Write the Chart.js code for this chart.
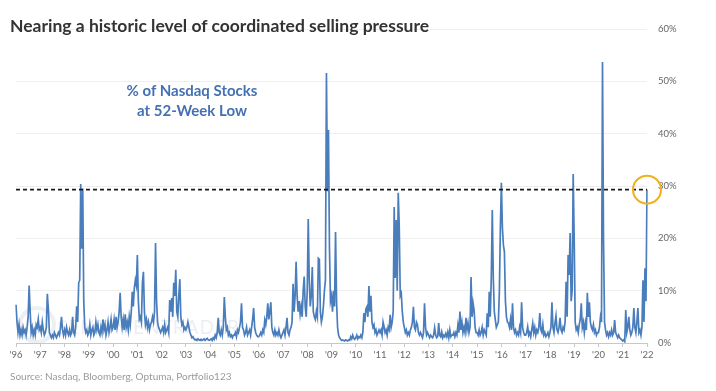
<!DOCTYPE html>
<html>
<head>
<meta charset="utf-8">
<script src="https://cdn.jsdelivr.net/npm/chart.js@4.4.1/dist/chart.umd.min.js"></script>
<style>
  html, body { margin: 0; padding: 0; background: #fff; }
  #wrap { position: relative; width: 716px; height: 391px; overflow: hidden; font-family: Lato, "Liberation Sans", sans-serif; }
  #chart { position: absolute; left: 0; top: 0; z-index: 2; }
  .title { position: absolute; left: 10px; top: 15px; font-size: 17.5px; font-weight: bold; color: #333; white-space: nowrap; z-index: 3; }
  .sub { position: absolute; left: 92px; width: 200px; top: 80px; text-align: center; font-size: 15px; line-height: 20px; font-weight: bold; color: #4471b3; z-index: 3; }
  .source { position: absolute; left: 10px; top: 370px; font-size: 10px; color: #9a9a9a; white-space: nowrap; z-index: 3; }
  .mark { position: absolute; left: 57px; top: 315px; font-size: 19px; letter-spacing: 1px; color: rgba(160, 180, 205, 0.22); z-index: 1; }
  .markc { position: absolute; left: 18px; top: 306px; width: 30px; height: 30px; border: 4px solid rgba(160, 180, 205, 0.2); border-radius: 50%; z-index: 1; }
</style>
</head>
<body>
<div id="wrap">
  <div class="title">Nearing a historic level of coordinated selling pressure</div>
  <div class="sub">% of Nasdaq Stocks<br>at 52-Week Low</div>
  <div class="markc"></div>
  <div class="mark">SENTIMENTRADER</div>
  <canvas id="chart" width="716" height="391"></canvas>
  <div class="source">Source: Nasdaq, Bloomberg, Optuma, Portfolio123</div>
</div>
<script>
// % of Nasdaq stocks at a 52-week low, two readings per month
const y1996 = [7.3, 4, 2, 3.5, 1.5, 2.5, 1.5, 3, 2, 2.5, 1.5, 3, 5, 11, 6, 2, 3, 1.5, 2.5, 1.5, 3.5, 3, 4.5, 2.5];
const y1997 = [3, 2, 4, 2.5, 1.5, 2, 3, 9.4, 6.5, 2, 1.5, 1, 1.5, 1, 2, 1.5, 1, 1.5, 2, 1.5, 3, 5, 2.5, 1.5];
const y1998 = [2.5, 1.5, 3, 2, 1.5, 2.5, 1.5, 2, 5, 2, 1.5, 3, 7, 4, 11.5, 12, 30.4, 18, 29.5, 8, 3, 2, 2.5, 1.5];
const y1999 = [2, 3.5, 1.5, 2.5, 3, 1.5, 2, 4, 2.5, 3.5, 2, 1.5, 3, 2, 4.5, 2.5, 3.5, 1.5, 2.5, 4, 2, 3, 4.5, 2.5];
const y2000 = [3, 4.5, 2.5, 5, 3, 4, 6, 9.6, 5, 3, 4.5, 2.5, 5.5, 3, 4, 2.5, 5, 3.5, 6, 9.8, 7, 10.5, 12, 11];
const y2001 = [16.8, 8, 4.5, 5, 4, 11.5, 13.6, 6, 3.5, 4.5, 3, 4, 2.5, 3.5, 4, 5, 4, 6, 19.1, 8, 4, 3, 2.5, 2];
const y2002 = [2.5, 3, 2, 3.5, 2, 2.5, 3, 2, 8.2, 6, 8.6, 5, 11.5, 9, 14, 6, 5, 9, 12.2, 5, 3.5, 4, 2.5, 3];
const y2003 = [2.5, 3, 4, 3, 2, 1.5, 1, 1.2, 0.8, 0.6, 0.7, 0.5, 0.8, 0.6, 0.5, 0.7, 0.5, 0.6, 0.8, 0.5, 0.7, 0.9, 0.6, 0.5];
const y2004 = [0.6, 0.8, 0.5, 1, 0.7, 1.5, 1, 2, 4.8, 2, 1.5, 2.5, 1.5, 3, 8.8, 5, 2.5, 3, 1.5, 2, 1.2, 1.5, 1, 1.5];
const y2005 = [1.5, 2, 1.2, 2.5, 2, 3, 4, 7.6, 3, 2.5, 1.5, 2, 3, 1.5, 2, 2.5, 1.5, 3, 4.5, 6.7, 3, 2, 1.5, 1.2];
const y2006 = [1.2, 1.5, 2, 1.5, 2.5, 2, 4.4, 3.5, 5, 7.6, 4.5, 6, 7.8, 3, 2, 1.5, 2.5, 1.5, 2, 1.5, 2.5, 1.5, 1, 1.5];
const y2007 = [2, 2.5, 1.5, 3, 4.8, 2, 1.5, 2.5, 3, 4, 11.3, 6, 9, 15.5, 9, 6, 8, 5.5, 7, 5, 10, 12.7, 7, 5];
const y2008 = [10, 23.7, 12, 7, 9, 14.5, 6, 5, 4.5, 6, 5, 16.2, 16, 6, 4, 5, 7, 10, 12, 51.6, 29, 40.7, 18, 8];
const y2009 = [9, 6, 10, 7, 21.2, 8, 3, 1.5, 1, 0.7, 0.5, 0.6, 0.5, 0.4, 0.6, 0.5, 0.4, 0.6, 0.5, 1.2, 0.8, 1.5, 0.9, 0.7];
const y2010 = [1, 1.5, 0.8, 1.2, 1, 1.5, 1, 2, 5.7, 4, 6.5, 6.9, 5, 10.9, 6, 9, 4, 3, 3.5, 2, 2.5, 1.5, 2, 2.5];
const y2011 = [2, 2.5, 1.5, 4, 3.1, 2, 2.5, 1.5, 3, 2.5, 5.4, 3, 4, 6, 26, 12.4, 23.5, 10, 28.7, 22.2, 9, 9.5, 6, 4];
const y2012 = [3, 2, 2.5, 1.5, 2, 1.5, 2.5, 3, 4, 6.9, 3, 2.5, 4, 3.5, 2, 1.5, 2, 1.5, 1, 2, 7.6, 3, 1.5, 2];
const y2013 = [1.5, 1, 1.5, 1.2, 1, 1.5, 2.9, 1.5, 1, 1.2, 3.8, 1.5, 1.2, 2.1, 1, 1.5, 1.2, 1.8, 1.2, 2.1, 1, 2.5, 1.2, 1.5];
const y2014 = [1.5, 2, 1.2, 2, 1.5, 3.4, 2, 6, 2.5, 4, 2, 3, 2, 4.8, 2.5, 3.8, 2, 3, 12.6, 5, 7.6, 6.3, 3, 2];
const y2015 = [2, 1.5, 2.5, 1.5, 2, 3, 1.5, 2.5, 2, 1.5, 5.7, 3, 9.8, 5, 12.4, 25.4, 12.4, 6, 4.4, 3, 3.5, 4, 9.8, 22];
const y2016 = [30.6, 22, 18.7, 17.4, 8, 5, 4, 3.8, 3, 4.5, 2.5, 7.6, 3, 2, 2.5, 1.5, 2, 1.5, 3, 2, 7.8, 3, 2, 1.5];
const y2017 = [1.5, 2, 3.1, 1.5, 2, 1.2, 2.5, 3.8, 2, 3, 1.5, 2.5, 2, 3, 5.7, 2.5, 2, 3.5, 1.5, 2, 1.2, 1.5, 2, 1.2];
const y2018 = [2, 3, 7.8, 3, 2, 3.8, 5.2, 2.5, 2, 3, 4.8, 2.5, 2, 3, 2.5, 4, 11.7, 5, 16.8, 13, 21, 8, 10, 32.3];
const y2019 = [20, 4, 2.5, 3, 2, 3.5, 4.5, 7.6, 3, 4, 2, 3.8, 2.5, 9.6, 5, 7.8, 4, 3, 2.5, 3.5, 2, 2.5, 1.5, 2];
const y2020 = [2, 3, 5, 4, 53.7, 19.7, 4, 2.5, 1.5, 2, 1.2, 2, 1.5, 2.5, 1.5, 2, 4.4, 2, 1.5, 1, 1.5, 1, 0.8, 0.6];
const y2021 = [0.4, 0.6, 0.3, 6.3, 2, 3, 5, 2.5, 1.5, 2, 3, 6.7, 3, 2, 4, 6.7, 2, 2.5, 1.5, 3, 12, 4, 14.3, 8];
const y2022 = [29.3];

const years = [1996, 1997, 1998, 1999, 2000, 2001, 2002, 2003, 2004, 2005, 2006, 2007, 2008,
  2009, 2010, 2011, 2012, 2013, 2014, 2015, 2016, 2017, 2018, 2019, 2020, 2021, 2022];
const yearLabels = ["'96", "'97", "'98", "'99", "'00", "'01", "'02", "'03", "'04", "'05", "'06", "'07", "'08",
  "'09", "'10", "'11", "'12", "'13", "'14", "'15", "'16", "'17", "'18", "'19", "'20", "'21", "'22"];
const yTicks = [0, 10, 20, 30, 40, 50, 60];
const threshold = 29.3;

const byYear = [y1996, y1997, y1998, y1999, y2000, y2001, y2002, y2003, y2004, y2005, y2006, y2007, y2008,
  y2009, y2010, y2011, y2012, y2013, y2014, y2015, y2016, y2017, y2018, y2019, y2020, y2021, y2022];

const labels = [];
const values = [];
const yearStart = {};
byYear.forEach((arr, k) => {
  arr.forEach((v, i) => {
    if (i === 0) yearStart[labels.length] = yearLabels[k];
    labels.push(years[k] + '-' + (i + 1));
    values.push(v);
  });
});

const lastIdx = values.length - 1;
const circleData = values.map((v, i) => (i === lastIdx ? threshold : null));

new Chart(document.getElementById('chart').getContext('2d'), {
  type: 'line',
  data: {
    labels,
    datasets: [
      {
        data: circleData,
        order: 0,
        showLine: false,
        pointRadius: 14,
        pointBorderColor: '#f2b01e',
        pointBackgroundColor: 'rgba(0,0,0,0)',
        pointBorderWidth: 2,
        clip: false,
      },
      {
        data: labels.map(() => threshold),
        order: 1,
        borderColor: '#1a1a1a',
        borderWidth: 1.6,
        borderDash: [4, 3],
        pointRadius: 0,
      },
      {
        data: values,
        order: 2,
        borderColor: '#4a7dbc',
        borderWidth: 1.7,
        pointRadius: 0,
        tension: 0,
      },
    ],
  },
  options: {
    responsive: false,
    animation: false,
    events: [],
    layout: { padding: { left: 16, right: 0, top: 29, bottom: 28 } },
    plugins: { legend: { display: false }, tooltip: { enabled: false } },
    scales: {
      x: {
        afterFit: (axis) => { axis.height = 20; },
        grid: {
          drawOnChartArea: false,
          drawTicks: true,
          tickLength: 4,
          color: '#c8c8c8',
        },
        border: { color: '#c8c8c8' },
        ticks: {
          autoSkip: false,
          maxRotation: 0,
          padding: 2,
          color: '#666',
          font: { family: 'Lato', size: 9.5 },
          callback: (val, idx) => (yearStart[idx] !== undefined ? yearStart[idx] : null),
        },
      },
      y: {
        position: 'right',
        min: 0,
        max: 60,
        afterFit: (axis) => { axis.width = 69; },
        afterBuildTicks: (axis) => { axis.ticks = yTicks.map((v) => ({ value: v })); },
        grid: { color: '#efefef', drawTicks: false },
        border: { display: false },
        ticks: {
          padding: 11,
          color: '#666',
          font: { family: 'Lato', size: 9.5 },
          callback: (v) => v + '%',
        },
      },
    },
  },
});
</script>
</body>
</html>
